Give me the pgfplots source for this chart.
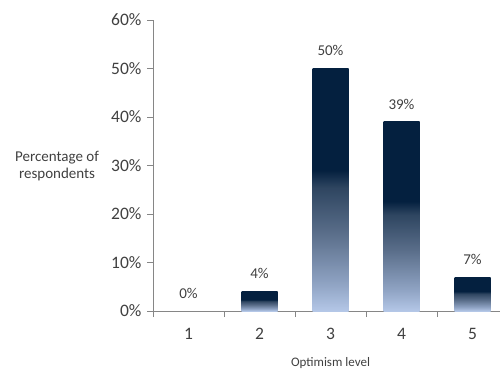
\documentclass[border=0pt]{standalone}
\usepackage{pgfplots}
\pgfplotsset{compat=1.18}
\usepackage{fontspec}
\setmainfont{Carlito}
\definecolor{navy}{HTML}{04203F}
\definecolor{c1}{HTML}{2E4560}
\definecolor{c2}{HTML}{5A6E8A}
\definecolor{c3}{HTML}{90A4C4}
\definecolor{lightb}{HTML}{B4C7E7}
\definecolor{txt}{HTML}{404040}
\definecolor{axisgray}{HTML}{868686}
\pgfdeclareverticalshading{barshade}{100bp}{color(0bp)=(lightb); color(25bp)=(lightb); color(30.5bp)=(c3); color(41bp)=(c2); color(50.5bp)=(c1); color(54bp)=(navy); color(100bp)=(navy)}
\pgfplotsset{gbar/.style={ybar, bar width=36pt, bar shift=0pt, draw=none, shade, shading=barshade}}
\begin{document}
\begin{tikzpicture}[x=1pt,y=1pt]
\path[use as bounding box] (0,0) rectangle (500,370);
\begin{axis}[
  at={(153pt,59pt)}, anchor=south west,
  scale only axis, width=355pt, height=291pt,
  xmin=0.5, xmax=5.5, ymin=0, ymax=60,
  axis x line*=bottom, axis y line*=left,
  axis line style={axisgray, line width=0.8pt},
  ytick={0,10,...,60},
  yticklabel={\pgfmathprintnumber{\tick}\%},
  /pgf/number format/assume math mode=true,
  xtick={1,...,5},
  minor xtick={0.5,1.5,...,5.5},
  major x tick style={draw=none},
  minor x tick style={axisgray, line width=0.8pt},
  y tick style={axisgray, line width=0.8pt},
  tick align=outside,
  major tick length=6pt, minor tick length=6pt,
  tick label style={font=\fontsize{17.5}{20}\selectfont, text=txt},
  yticklabel style={xshift=-2pt},
  xticklabel style={yshift=-8pt},
  xlabel={Optimism level},
  every axis x label/.style={at={(axis description cs:0.5,0)}, anchor=center, yshift=-52pt, font=\fontsize{13}{15}\selectfont, text=txt},
  ylabel={Percentage of\\respondents},
  every axis y label/.style={at={(axis description cs:-0.2704,0.498)}, anchor=center, align=center, font=\fontsize{15}{17}\selectfont, text=txt},
  nodes near coords={\pgfmathprintnumber{\pgfplotspointmeta}\%},
  every node near coord/.append style={font=\fontsize{15}{17}\selectfont, text=txt, yshift=9pt},
]
\addplot[ybar, bar width=36pt, bar shift=0pt, draw=none, fill=none] coordinates {(1,0)};
\addplot[gbar] coordinates {(2,4)};
\addplot[gbar] coordinates {(3,50)};
\addplot[gbar] coordinates {(4,39)};
\addplot[gbar] coordinates {(5,7)};
\end{axis}
\end{tikzpicture}
\end{document}
